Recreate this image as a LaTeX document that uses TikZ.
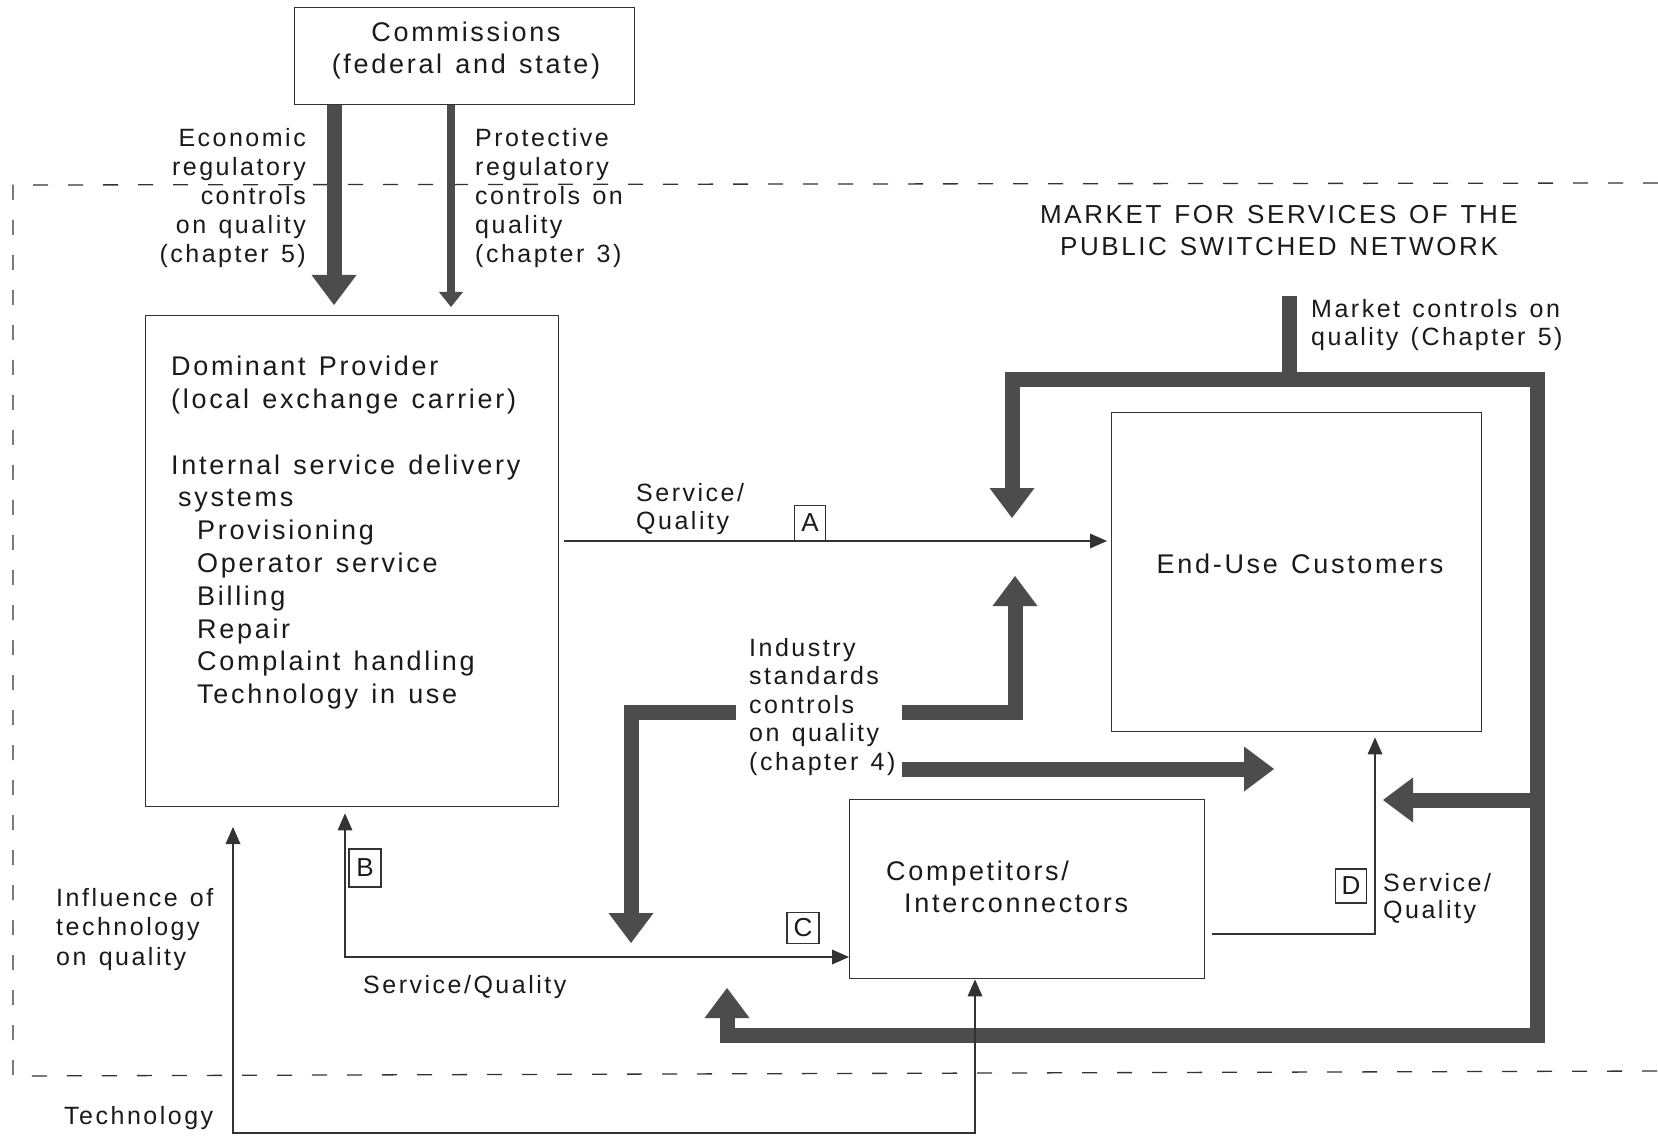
\documentclass[tikz,border=0pt]{standalone}
\usepackage{fontspec}
\setmainfont{Liberation Sans}[LetterSpace=10,WordSpace=1.3]
\newfontfamily\plainsans{Liberation Sans}
\usetikzlibrary{arrows.meta}
\definecolor{thickc}{HTML}{4C4C4C}
\definecolor{linec}{HTML}{333333}
\definecolor{textc}{HTML}{1A1A1A}
\tikzset{
  BigTri/.tip={Triangle[width=45pt,length=30pt,line width=0pt]},
  MidTri/.tip={Triangle[width=24pt,length=15pt,line width=0pt]},
  SmTri/.tip={Triangle[width=15pt,length=17pt,line width=0pt]},
}
\begin{document}
\begin{tikzpicture}[x=1pt,y=-1pt,
  box/.style={draw=linec, line width=1.4pt, inner sep=0pt, anchor=north west},
  lbl/.style={inner sep=0pt, text=textc, font=\fontsize{25}{28}\selectfont},
  boxtxt/.style={inner sep=0pt, text=textc, font=\fontsize{27}{32}\selectfont},
  lett/.style={draw=linec, line width=1.2pt, inner sep=0pt, minimum width=31pt, minimum height=35pt, text=textc, font=\plainsans\fontsize{26}{26}\selectfont},
  thk/.style={draw=thickc, line width=15pt, line join=miter},
  thn/.style={draw=linec, line width=1.4pt},
  tech/.style={draw=linec, line width=2.4pt},
]
\fill[white] (0,0) rectangle (1658,1139);
\useasboundingbox (0,0) rectangle (1658,1139);

% market boundary (dashed, open on the right)
\draw[linec, line width=1.3pt, dash pattern=on 15pt off 20pt] (1658,183) -- (13,185) -- (13,1076) -- (1658,1071);

% boxes
\node[box, minimum width=340pt, minimum height=97pt] (comm) at (294,7) {};
\node[box, minimum width=413pt, minimum height=491pt] (dom) at (145,315) {};
\node[box, minimum width=370pt, minimum height=319pt] (enduse) at (1111,412) {};
\node[box, minimum width=355pt, minimum height=179pt] (comp) at (849,799) {};

% texts
\node[boxtxt, align=center, anchor=north] (commtxt) at (466,22) {Commissions\\(federal and state)};
\node[lbl, font=\fontsize{25}{29}\selectfont, align=right, anchor=north east] (econtxt) at (306,128) {Economic\\regulatory\\controls\\on quality\\(chapter 5)};
\node[lbl, font=\fontsize{25}{29}\selectfont, align=left, anchor=north west] (prottxt) at (475,128) {Protective\\regulatory\\controls on\\quality\\(chapter 3)};
\node[lbl, font=\fontsize{26}{32}\selectfont, align=center, anchor=north] (mkttxt) at (1279,205) {MARKET FOR SERVICES OF THE\\PUBLIC SWITCHED NETWORK};
\node[boxtxt, font=\fontsize{27}{32.8}\selectfont, align=left, anchor=north west] (domtxt) at (171,356)
  {Dominant Provider\\(local exchange carrier)\\[32.8pt]Internal service delivery\\\hspace*{7pt}systems\\\hspace*{26pt}Provisioning\\\hspace*{26pt}Operator service\\\hspace*{26pt}Billing\\\hspace*{26pt}Repair\\\hspace*{26pt}Complaint handling\\\hspace*{26pt}Technology in use};
\node[lbl, align=left, anchor=north west] (mcttxt) at (1311,299) {Market controls on\\quality (Chapter 5)};
\node[boxtxt] (eutxt) at (1300,564) {End-Use Customers};
\node[lbl, align=left, anchor=north west] (sqatxt) at (636,483) {Service/\\Quality};
\node[lbl, font=\fontsize{25}{28.5}\selectfont, align=left, anchor=north west] (indtxt) at (749,638) {Industry\\standards\\controls\\on quality\\(chapter 4)};
\node[boxtxt, align=left, anchor=north west] (comptxt) at (886,861) {Competitors/\\\hspace*{18pt}Interconnectors};
\node[lbl, anchor=west] (sqbtxt) at (363,987) {Service/Quality};
\node[lbl, font=\fontsize{25}{29.5}\selectfont, align=left, anchor=north west] (inftxt) at (56,888) {Influence of\\technology\\on quality};
\node[lbl, anchor=west] (techtxt) at (64,1118) {Technology};
\node[lbl, font=\fontsize{25}{27}\selectfont, align=left, anchor=north west] (sqdtxt) at (1383,873) {Service/\\Quality};

% lettered boxes
\node[lett] (la) at (810,523) {A};
\node[lett, minimum width=32pt, minimum height=38pt] (lb) at (365,868) {B};
\node[lett, minimum width=32pt, minimum height=31pt] (lc) at (803,928) {C};
\node[lett, minimum height=34pt] (ld) at (1351,886) {D};

% coordinates
\coordinate (econTip) at (334,305);
\coordinate (protTip) at (451,307);
\coordinate (mStub) at (1289,296);
\coordinate (mTop) at (1289,380);
\coordinate (mL) at (1012,380);
\coordinate (mLtip) at (1012,518);
\coordinate (mR) at (1537,380);
\coordinate (mRB) at (1537,1035);
\coordinate (mBL) at (727,1035);
\coordinate (mBLtip) at (727,988);
\coordinate (mBr) at (1537,800);
\coordinate (mBrTip) at (1383,800);
\coordinate (iA0) at (902,712);
\coordinate (iA1) at (1015,712);
\coordinate (iAtip) at (1015,576);
\coordinate (iB0) at (902,769);
\coordinate (iBtip) at (1274,769);
\coordinate (iC0) at (736,712);
\coordinate (iC1) at (631,712);
\coordinate (iCtip) at (631,943);
\coordinate (aY) at (0,541);
\coordinate (bc) at (345,957);
\coordinate (dL) at (1212,934);
\coordinate (dC) at (1375,934);
\coordinate (tT) at (233,827);
\coordinate (tB) at (233,1133);
\coordinate (tR) at (975,1133);

% regulatory controls
\draw[thk, -BigTri] (comm.south -| econTip) -- (econTip);
\draw[thk, line width=8.5pt, -MidTri] (comm.south -| protTip) -- (protTip);

% market controls
\draw[thk] (mStub) -- (mTop);
\draw[thk, BigTri-BigTri] (mLtip) -- (mL) -- (mR) -- (mRB) -- (mBL) -- (mBLtip);
\draw[thk, -BigTri] (mBr) -- (mBrTip);

% industry standards controls
\draw[thk, -BigTri] (iA0) -- (iA1) -- (iAtip);
\draw[thk, -BigTri] (iB0) -- (iBtip);
\draw[thk, -BigTri] (iC0) -- (iC1) -- (iCtip);

% service / quality flows
\draw[thn, -SmTri, shorten <=5pt, shorten >=4pt] (dom.east |- aY) -- (enduse.west |- aY);
\draw[thn, SmTri-SmTri, shorten <=6pt] (dom.south -| bc) -- (bc) -- (comp.west |- bc);
\draw[thn, -SmTri, shorten >=5pt] (dL) -- (dC) -- (enduse.south -| dC);

% technology
\draw[tech, SmTri-SmTri] (tT) -- (tB) -- (tR) -- (comp.south -| tR);
\end{tikzpicture}
\end{document}
